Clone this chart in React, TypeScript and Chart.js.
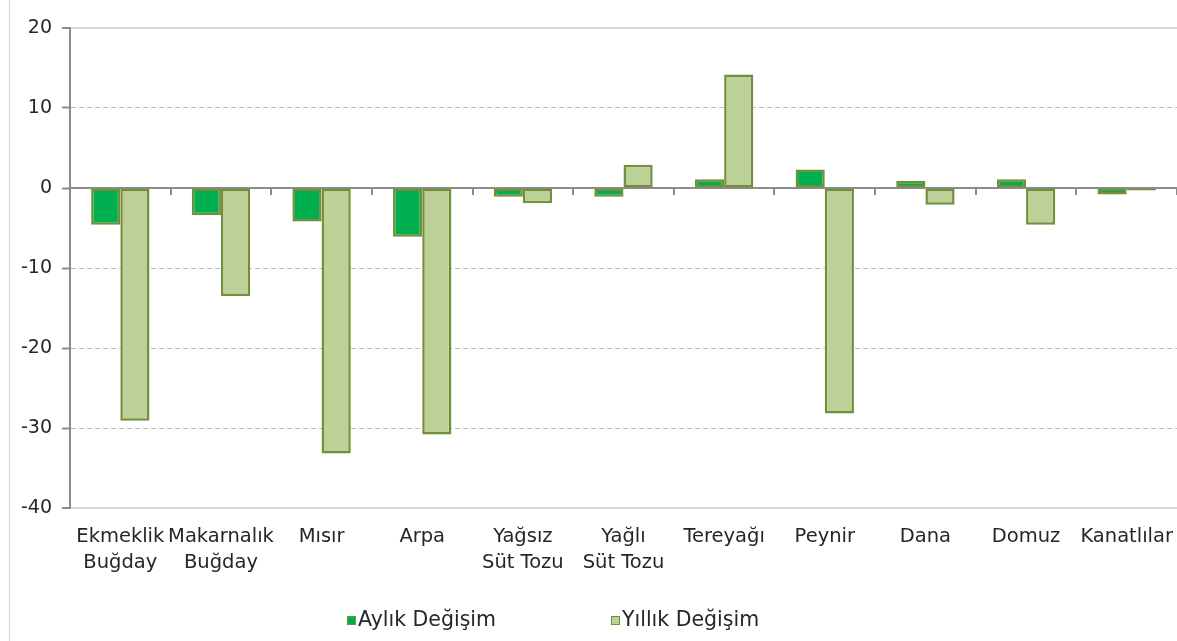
import React, { useEffect, useRef } from 'react';
import { Chart, registerables } from 'chart.js';

Chart.register(...registerables);

const categories: (string | string[])[] = [
  ['Ekmeklik', 'Buğday'],
  ['Makarnalık', 'Buğday'],
  'Mısır',
  'Arpa',
  ['Yağsız', 'Süt Tozu'],
  ['Yağlı', 'Süt Tozu'],
  'Tereyağı',
  'Peynir',
  'Dana',
  'Domuz',
  'Kanatlılar',
];

const seriesNames = ['Aylık Değişim', 'Yıllık Değişim'];
const monthlyChange = [-4.6, -3.4, -4.2, -6.1, -1.1, -1.1, 1.1, 2.3, 0.9, 1.1, -0.8];
const annualChange = [-29.1, -13.5, -33.2, -30.8, -1.9, 2.9, 14.2, -28.2, -2.1, -4.6, -0.3];
const yTicks = [20, 10, 0, -10, -20, -30, -40];

const FONT = '"DejaVu Sans", Verdana, sans-serif';
const TEXT = '#262626';
const AXIS = '#8c8c8c';

const legendPlugin = {
  id: 'customLegend',
  afterDraw(chart: any) {
    const { ctx, chartArea } = chart;
    ctx.save();
    ctx.font = `20.5px ${FONT}`;
    ctx.textBaseline = 'middle';
    ctx.textAlign = 'left';
    const y = chartArea.bottom + 113;
    let x = chartArea.left + 277;
    chart.data.datasets.forEach((ds: any) => {
      ctx.fillStyle = ds.backgroundColor;
      ctx.fillRect(x, y - 5, 9, 9);
      ctx.strokeStyle = ds.borderColor;
      ctx.lineWidth = 1;
      ctx.strokeRect(x + 0.5, y - 4.5, 8, 8);
      ctx.fillStyle = TEXT;
      ctx.fillText(ds.label, x + 11, y);
      x += 264;
    });
    ctx.restore();
  },
};

export default function App() {
  const ref = useRef<HTMLCanvasElement>(null);

  useEffect(() => {
    if (!ref.current) return;
    const plainLabels = categories.map((c) => (Array.isArray(c) ? c.join(' ') : c));
    const isEdge = (v: number) => v === yTicks[0] || v === yTicks[yTicks.length - 1];
    const chart = new Chart(ref.current, {
      type: 'bar',
      data: {
        labels: categories as any,
        datasets: [
          {
            label: seriesNames[0],
            data: monthlyChange,
            backgroundColor: '#00b050',
            borderColor: '#71903a',
            borderWidth: 2.5,
            borderSkipped: false,
            barPercentage: 1,
            categoryPercentage: 0.58,
          },
          {
            label: seriesNames[1],
            data: annualChange,
            backgroundColor: '#bcd097',
            borderColor: '#71903a',
            borderWidth: 2.5,
            borderSkipped: false,
            barPercentage: 1,
            categoryPercentage: 0.58,
          },
        ],
      },
      options: {
        responsive: false,
        animation: false,
        layout: { padding: { top: 28, right: 0, bottom: 0, left: 0 } },
        plugins: {
          legend: { display: false },
          tooltip: { enabled: false },
        },
        scales: {
          x: {
            type: 'category',
            offset: true,
            grid: {
              display: true,
              offset: true,
              drawOnChartArea: false,
              drawTicks: true,
              tickLength: 15,
              color: 'rgba(0,0,0,0)',
              tickColor: 'rgba(0,0,0,0)',
            },
            border: { display: false },
            ticks: {
              color: TEXT,
              font: { family: FONT, size: 19.5, lineHeight: 1.38 },
              padding: 0,
              maxRotation: 0,
              autoSkip: false,
            },
            afterFit: (scale: any) => {
              scale.height = 133;
            },
          },
          x2: {
            type: 'category',
            labels: plainLabels,
            position: { y: 0 } as any,
            offset: true,
            z: 1,
            grid: {
              display: true,
              offset: true,
              drawOnChartArea: false,
              drawTicks: true,
              tickLength: 6,
              color: AXIS,
              tickColor: AXIS,
              lineWidth: 2,
              tickWidth: 2,
            },
            border: { display: true, color: AXIS, width: 2 },
            ticks: { display: false },
          },
          y: {
            min: yTicks[yTicks.length - 1],
            max: yTicks[0],
            ticks: {
              stepSize: 10,
              color: TEXT,
              font: { family: FONT, size: 19 },
              padding: 10,
            },
            grid: {
              color: (c: any) => {
                const v = c.tick ? c.tick.value : null;
                if (v === 0) return 'rgba(0,0,0,0)';
                if (v !== null && isEdge(v)) return '#d9d9d9';
                return '#bfbfbf';
              },
              lineWidth: (c: any) => (c.tick && isEdge(c.tick.value) ? 2 : 1),
              tickColor: AXIS,
              tickLength: 8,
              tickWidth: 2,
              tickBorderDash: [],
            },
            border: {
              display: true,
              color: AXIS,
              width: 2,
              dash: (c: any) => (c.tick && !isEdge(c.tick.value) ? [5, 3] : []),
            } as any,
            afterFit: (scale: any) => {
              scale.width = 70;
            },
          },
        },
      },
      plugins: [legendPlugin],
    });
    return () => chart.destroy();
  }, []);

  return (
    <div style={{ position: 'fixed', left: 0, top: 0, width: 1177, height: 641, background: '#fff' }}>
      <div style={{ position: 'absolute', left: 9, top: 0, width: 1, height: 641, background: '#d4d4d4' }} />
      <canvas ref={ref} width={1177} height={641} style={{ position: 'absolute', left: 0, top: 0 }} />
    </div>
  );
}
